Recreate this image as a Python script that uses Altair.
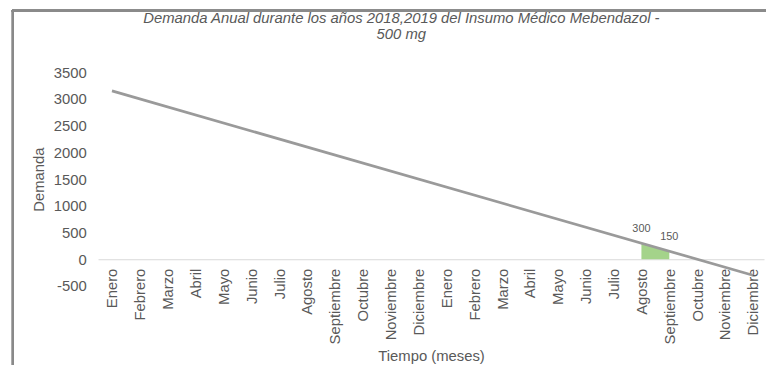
import json
import altair as alt
import pandas as pd

# ---- data ----
meses = ["Enero", "Febrero", "Marzo", "Abril", "Mayo", "Junio", "Julio", "Agosto",
         "Septiembre", "Octubre", "Noviembre", "Diciembre",
         "Enero", "Febrero", "Marzo", "Abril", "Mayo", "Junio", "Julio", "Agosto",
         "Septiembre", "Octubre", "Noviembre", "Diciembre"]
demanda = [None, None, None, None, None, None, None, None, None, None, None, None,
           None, None, None, None, None, None, None, 300, 150, None, None, None]
y_ticks = [-500, 0, 500, 1000, 1500, 2000, 2500, 3000, 3500]
titulo = ["Demanda Anual durante los años 2018,2019 del Insumo Médico Mebendazol  -", "500 mg"]

df = pd.DataFrame({"idx": list(range(len(meses))), "mes": meses, "demanda": demanda})

FONT = "Liberation Sans"
GRAY = "#595959"
W, H = 673, 216

label_expr = json.dumps(meses).replace('"', "'") + "[datum.value]"

x = alt.X("idx:Q",
          scale=alt.Scale(domain=[-0.5, 23.4], nice=False, zero=False),
          axis=alt.Axis(values=list(range(len(meses))), labelExpr=label_expr,
                        labelAngle=-90, labelPadding=9, ticks=False, grid=False,
                        labelFlush=False, labelOverlap=False,
                        domainColor="#d9d9d9", domainWidth=1, offset=-27,
                        title="Tiempo (meses)", titleY=97, titleBaseline="middle"))
y = alt.Y("demanda:Q",
          scale=alt.Scale(domain=[-500, 3500], nice=False),
          axis=alt.Axis(values=y_ticks, labelExpr="'' + datum.value", ticks=False,
                        domain=False, grid=False,
                        labelPadding=12, labelOverlap=False, labelFlush=False,
                        title="Demanda", titleX=-60, titleY=H / 2,
                        titleAngle=270, titleAlign="center", titleBaseline="middle"))

base = alt.Chart(df).transform_filter("isValid(datum.demanda)")

area = base.mark_area(color="#9fd184", opacity=0.95).encode(x=x, y=y)

trend = base.transform_regression("idx", "demanda", extent=[0, 23]).mark_line(
    color="#9a9a9a", strokeWidth=2.75).encode(x=x, y=y)

labels = base.mark_text(dy=-14, fontSize=11, color=GRAY, font=FONT).encode(
    x=x, y=y, text=alt.Text("demanda:Q", format="d"))

frame_left = alt.Chart(df).mark_rule(color="#8a8a8a", strokeWidth=2, clip=False).encode(
    x=alt.value(-86), y=alt.value(-63), y2=alt.value(320))
frame_top = alt.Chart(df).mark_rule(color="#8a8a8a", strokeWidth=2, clip=False).encode(
    x=alt.value(-87), x2=alt.value(W + 5), y=alt.value(-62))

chart = alt.layer(area, trend, labels, frame_left, frame_top).properties(
    width=W, height=H,
    background="white",
    padding={"left": 91, "top": 63, "right": 2, "bottom": 78},
    autosize=alt.AutoSizeParams(type="none"),
    title=alt.TitleParams(titulo, fontSize=15, fontStyle="italic", font=FONT,
                          color=GRAY, fontWeight="normal", anchor="middle",
                          dx=-30, dy=33, offset=0, lineHeight=16),
).configure_view(stroke=None).configure_axis(
    labelFont=FONT, labelFontSize=15, labelColor=GRAY, labelOverlap=False,
    titleFont=FONT, titleFontSize=15, titleColor=GRAY, titleFontWeight="normal"
)

chart.save("out.html", embed_options={"renderer": "svg", "actions": False})
